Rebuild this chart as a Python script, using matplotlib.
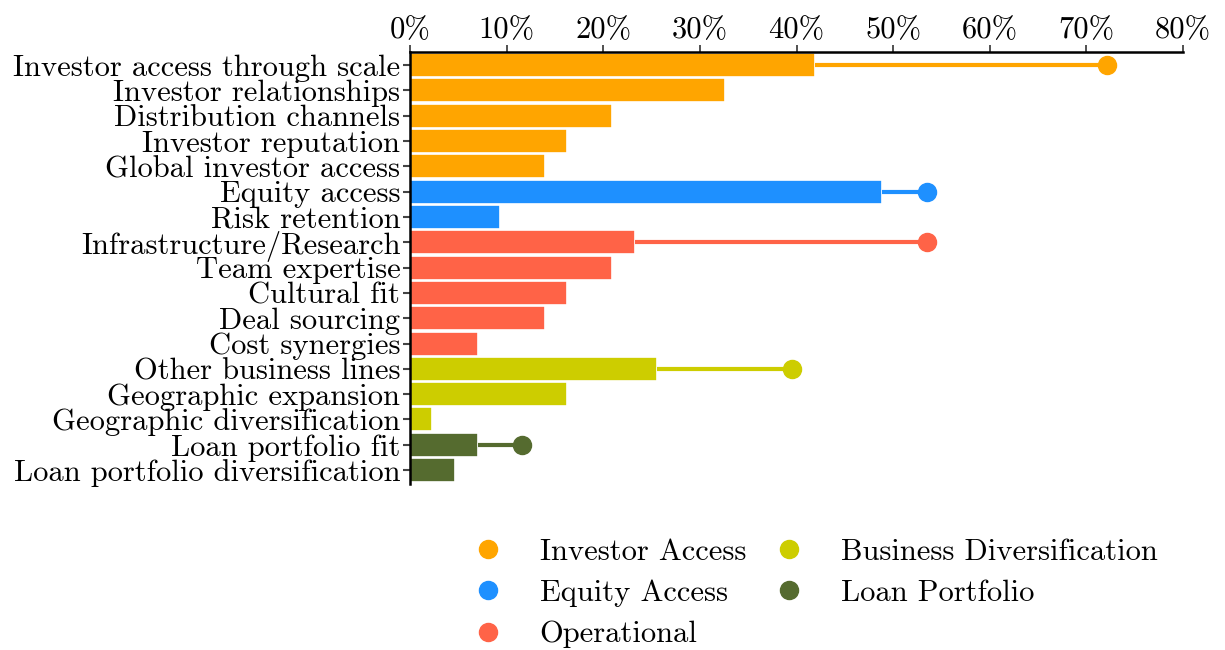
import matplotlib
matplotlib.use("Agg")
import matplotlib.pyplot as plt
from matplotlib.lines import Line2D

categories = ["Investor access through scale", "Investor relationships", "Distribution channels",
              "Investor reputation", "Global investor access", "Equity access", "Risk retention",
              "Infrastructure/Research", "Team expertise", "Cultural fit", "Deal sourcing",
              "Cost synergies", "Other business lines", "Geographic expansion",
              "Geographic diversification", "Loan portfolio fit", "Loan portfolio diversification"]
groups = ["Investor Access"] * 5 + ["Equity Access"] * 2 + ["Operational"] * 5 + \
         ["Business Diversification"] * 3 + ["Loan Portfolio"] * 2
bar_values = [41.9, 32.6, 20.9, 16.3, 14.0, 48.8, 9.3, 23.3, 20.9, 16.3, 14.0, 7.0,
              25.6, 16.3, 2.3, 7.0, 4.7]
dot_values = [72.1, None, None, None, None, 53.5, None, 53.5, None, None, None, None,
              39.5, None, None, 11.6, None]
group_names = ["Investor Access", "Equity Access", "Operational", "Business Diversification", "Loan Portfolio"]
group_colors = {"Investor Access": "#FFA500", "Equity Access": "#1E90FF", "Operational": "#FF6347",
                "Business Diversification": "#CDCD00", "Loan Portfolio": "#556B2F"}
xticks = [0, 10, 20, 30, 40, 50, 60, 70, 80]

plt.rcParams['font.family'] = ['cmr10', 'DejaVu Serif']
plt.rcParams['mathtext.fontset'] = 'cm'

fig = plt.figure(figsize=(12.25, 6.5), dpi=100)
ax = fig.add_axes([410 / 1225, 1 - 484 / 650, (1183 - 410) / 1225, (484 - 52) / 650])

ys = list(range(len(categories)))
for y, v, d, g in zip(ys, bar_values, dot_values, groups):
    c = group_colors[g]
    ax.barh(y, v, height=0.95, color=c, edgecolor="white", linewidth=1.2, zorder=2)
    if d is not None:
        ax.plot([v, d], [y, y], color=c, lw=3, zorder=3, solid_capstyle="butt")
        ax.plot([d], [y], 'o', color=c, ms=13, zorder=4)

ax.set_ylim(len(categories) - 0.45, -0.52)
ax.set_xlim(0, 80)
ax.set_yticks(ys)
ax.set_yticklabels(categories, fontsize=22)
ax.xaxis.tick_top()
ax.set_xticks(xticks)
ax.set_xticklabels([f"{t}%" for t in xticks], fontsize=22)
ax.tick_params(axis='x', length=5, width=1.2, color='#333333', pad=1)
ax.tick_params(axis='y', length=5, width=1.5, color='#444444', pad=2)
for s in ['right', 'bottom']:
    ax.spines[s].set_visible(False)
ax.spines['top'].set_linewidth(1.8)
ax.spines['left'].set_linewidth(1.8)

handles = [Line2D([], [], marker='o', ls='', color=group_colors[g], ms=13) for g in group_names]
fig.legend(handles, group_names, ncol=2, loc='upper left', bbox_to_anchor=(0.357, 0.214),
           frameon=False, fontsize=22, handlelength=1.5, handletextpad=0.95,
           columnspacing=0.65, labelspacing=0.45)

fig.savefig("out.png", dpi=100)
